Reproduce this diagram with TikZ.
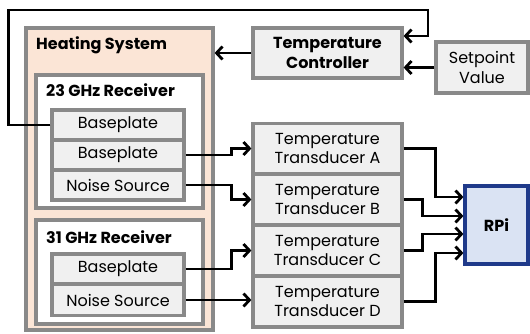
\documentclass[tikz,border=0pt]{standalone}
\usepackage{fontspec}
\setmainfont{Poppins}
\usepackage{tikz}
\usetikzlibrary{arrows.meta}

\definecolor{boxgray}{HTML}{898989}
\definecolor{boxfill}{HTML}{F0F0F0}
\definecolor{heatfill}{HTML}{FBE5D6}
\definecolor{rpifill}{HTML}{DAE3F3}
\definecolor{rpiedge}{HTML}{1F3A8A}

\tikzset{
  block/.style={draw=boxgray, line width=3.2pt, fill=boxfill, align=center,
    font=\fontsize{16}{19.5}\selectfont, inner sep=0pt},
  group/.style={draw=boxgray, line width=3.2pt, inner sep=0pt},
  title/.style={font=\bfseries\fontsize{16}{19.5}\selectfont, anchor=west, inner sep=0pt},
  wire/.style={line width=2.8pt, -{Straight Barb[length=6pt, width=13pt, line width=2.8pt]}}
}

\begin{document}
\begin{tikzpicture}[x=1pt, y=-1pt]
  \useasboundingbox (0,0) rectangle (530,333);

  % Heating system and receivers
  \node[group, fill=heatfill, minimum width=187, minimum height=302] (heat) at (119.5,179) {};
  \node[title] (heatlbl) at (36,45) {Heating System};
  \node[group, fill=white, minimum width=167, minimum height=133] (rx23) at (119.5,141.5) {};
  \node[title] (rx23lbl) at (46,90) {23 GHz Receiver};
  \node[group, fill=white, minimum width=167, minimum height=104] (rx31) at (119.5,272) {};
  \node[title] (rx31lbl) at (46,237) {31 GHz Receiver};

  % Sensors inside the receivers
  \node[block, minimum width=132, minimum height=30] (bp1) at (118,125) {Baseplate};
  \node[block, minimum width=132, minimum height=30] (bp2) at (118,155) {Baseplate};
  \node[block, minimum width=132, minimum height=30] (ns23) at (118,185) {Noise Source};
  \node[block, minimum width=132, minimum height=30] (bp31) at (118,269) {Baseplate};
  \node[block, minimum width=132, minimum height=31] (ns31) at (118,300) {Noise Source};

  % Controller and setpoint
  \node[block, font=\bfseries\fontsize{16}{19.5}\selectfont, minimum width=149, minimum height=50] (ctrl) at (327.5,53) {Temperature\\Controller};
  \node[block, minimum width=92, minimum height=51] (setp) at (482,67.5) {Setpoint\\Value};

  % Transducers
  \node[block, minimum width=149, minimum height=50] (ta) at (327.5,148.5) {Temperature\\Transducer A};
  \node[block, minimum width=149, minimum height=50] (tb) at (327.5,199.5) {Temperature\\Transducer B};
  \node[block, minimum width=149, minimum height=50] (tc) at (327.5,250.5) {Temperature\\Transducer C};
  \node[block, minimum width=149, minimum height=51] (td) at (327.5,301.5) {Temperature\\Transducer D};

  % RPi
  \node[block, draw=rpiedge, fill=rpifill, font=\bfseries\fontsize{16}{19.5}\selectfont,
    minimum width=63, minimum height=78] (rpi) at (496.5,225) {RPi};

  % Control loop
  \draw[wire] (bp1.west) -- ++(-42,0) |- (428,10) |- ([yshift=17pt]ctrl.east);
  \draw[wire] (setp.west) -- (setp.west -| ctrl.east);
  \draw[wire] (ctrl.west) -- (ctrl.west -| heat.east);

  % Sensors to transducers
  \draw[wire] (bp2.east) -- ++(46,0) |- (ta.west);
  \draw[wire] (ns23.east) -- ++(46,0) |- (tb.west);
  \draw[wire] (bp31.east) -- ++(46,0) |- (tc.west);
  \draw[wire] (ns31.east) -- (ns31.east -| td.west);

  % Transducers to RPi
  \draw[wire] (ta.east) -- ++(32,0) |- ([yshift=28pt]rpi.west);
  \draw[wire] (tb.east) -- ++(19,0) |- ([yshift=9pt]rpi.west);
  \draw[wire] (tc.east) -- ++(19,0) |- ([yshift=-9pt]rpi.west);
  \draw[wire] (td.east) -- ++(32,0) |- ([yshift=-28pt]rpi.west);
\end{tikzpicture}
\end{document}
